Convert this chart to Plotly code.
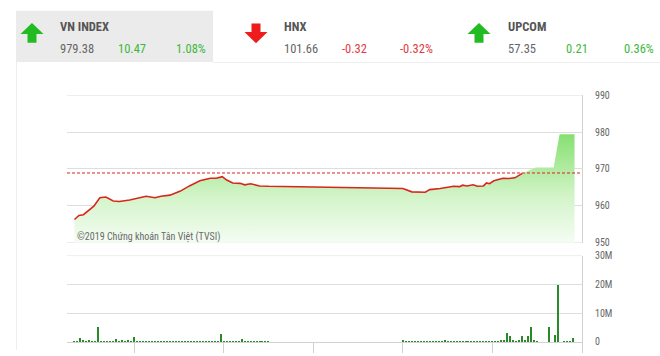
import plotly.graph_objects as go
import pandas as pd

W, H = 660, 356
DAY = "2019-01-01 "

# ---------------- data ----------------
prev_close = 968.91

line_times = ["09:20", "09:23", "09:26", "09:29", "09:33", "09:37", "09:41", "09:46", "09:50", "09:57",
              "10:04", "10:08", "10:14", "10:18", "10:24", "10:31", "10:37", "10:44", "10:51", "10:55",
              "10:59", "11:02", "11:06", "11:11", "11:14", "11:18", "11:24", "11:29", "11:30",
              "13:00", "13:06", "13:15", "13:18", "13:25", "13:34", "13:38", "13:40", "13:43", "13:47",
              "13:50", "13:54", "13:56", "13:58", "14:01", "14:03", "14:07", "14:11", "14:15", "14:20"]
line_values = [956.3, 957.4, 957.6, 958.7, 959.9, 962.2, 962.4, 961.3, 961.2, 961.6,
               962.2, 962.6, 962.2, 962.6, 962.9, 964.0, 965.4, 966.8, 967.5, 967.5,
               967.9, 967.0, 966.2, 966.1, 965.7, 966.0, 965.4, 965.3, 965.3,
               964.7, 963.8, 963.7, 964.4, 964.7, 965.3, 965.2, 965.6, 965.4, 965.7,
               965.3, 965.4, 966.2, 966.0, 966.8, 967.0, 967.5, 967.4, 967.6, 968.8]

# tail of the session shown only as filled area
tail_times = ["14:29", "14:41", "14:45", "14:55"]
tail_values = [970.4, 970.4, 979.38, 979.38]

vol_morning = [0.6, 0.5, 1.5, 0.8, 0.6, 0.7, 0.5, 0.6, 5.4, 0.5,
               0.6, 0.4, 0.5, 0.6, 1.2, 0.6, 0.9, 0.5, 0.8, 0.6,
               1.8, 0.4, 0.3, 0.4, 0.3, 0.5, 0.3, 0.4, 0.3, 0.3,
               0.4, 0.3, 0.5, 0.3, 0.4, 0.3, 0.3, 0.4, 0.3, 0.5,
               0.3, 0.4, 0.3, 0.4, 0.3, 0.4, 0.3, 0.4, 0.5, 2.9,
               0.4, 0.3, 0.4, 0.3, 0.4, 0.5, 1.3, 0.5, 0.4, 0.3,
               0.4, 0.3, 0.2, 0.3, 0.2, 0.3]
vol_afternoon = [1.0, 0.3, 0.2, 0.3, 0.4, 0.3, 0.4, 0.3, 0.5, 0.4,
                 0.3, 0.4, 0.6, 0.5, 0.7, 0.5, 0.6, 0.4, 0.5, 0.4,
                 0.3, 0.4, 0.3, 0.5, 0.3, 0.4, 0.3, 0.5, 0.4, 0.5,
                 0.4, 0.6, 0.5, 0.7, 0.9, 3.4, 2.2, 0.8, 0.6, 0.7,
                 2.3, 0.9, 2.3, 5.4, 0.8, 0.4, 0, 0, 0, 5.2,
                 0, 2.6, 20.0, 0, 0.2, 0.2, 0.3, 1.6]
vol_morning_times = pd.date_range(DAY + "09:20", DAY + "11:30", freq="2min")
vol_afternoon_times = pd.date_range(DAY + "13:00", DAY + "14:54", freq="2min")

vol_ticks = [0, 10, 20, 30]
vol_tick_text = ["0", "10M", "20M", "30M"]
idx_ticks = [950, 960, 970, 980, 990]

header = [
    # name, price, change, pct, up?
    ("VN INDEX", "979.38", "10.47", "1.08%", True),
    ("HNX", "101.66", "-0.32", "-0.32%", False),
    ("UPCOM", "57.35", "0.21", "0.36%", True),
]

# ---------------- helpers ----------------
def px(x):
    return x / W

def py(y):
    return 1 - y / H

FONT = "Roboto Condensed, Liberation Sans Narrow, DejaVu Sans Condensed, Roboto, sans-serif"
GREEN_TXT = "#3cb93c"
RED_TXT = "#e23a3f"
GRID = "#dedede"

x_dom = [px(67), px(582)]
y_main = [py(245), py(92.3)]
y_vol = [py(347.7), py(258.3)]
x_range = [DAY + "09:15", DAY + "15:00"]

fig = go.Figure()

area_x = [DAY + t for t in line_times + tail_times]
area_y = line_values + tail_values
fig.add_trace(go.Scatter(
    x=area_x, y=area_y, mode="lines", fill="tozeroy",
    line=dict(width=0, color="rgba(0,0,0,0)"),
    fillgradient=dict(type="vertical", start=950, stop=980,
                      colorscale=[[0, "#f8fdf7"], [0.45, "#d2f4c8"], [1, "#84df6e"]]),
    hoverinfo="skip", xaxis="x", yaxis="y"))
fig.add_trace(go.Scatter(
    x=[DAY + t for t in line_times], y=line_values, mode="lines",
    line=dict(width=1.6, color="#d9261c"),
    hoverinfo="skip", xaxis="x", yaxis="y"))

fig.add_trace(go.Bar(
    x=list(vol_morning_times) + list(vol_afternoon_times),
    y=vol_morning + vol_afternoon,
    width=45000, marker=dict(color="#2a8a2a", line=dict(width=0)),
    hoverinfo="skip", xaxis="x2", yaxis="y2"))

fig.update_layout(
    width=W, height=H, margin=dict(l=0, r=0, t=0, b=0),
    paper_bgcolor="white", plot_bgcolor="white", showlegend=False,
    font=dict(family=FONT, color="#666"),
    bargap=0,
    xaxis=dict(domain=x_dom, type="date", range=x_range, showgrid=False,
               showticklabels=False, zeroline=False, showline=False, ticks="", anchor="y"),
    yaxis=dict(domain=y_main, range=[950, 990], side="right", tickvals=idx_ticks,
               gridcolor=GRID, gridwidth=1, showline=True, linecolor="#d2d2d2",
               zeroline=False, ticks="", ticklabelstandoff=10,
               tickfont=dict(size=10, color="#666"), anchor="x"),
    xaxis2=dict(domain=x_dom, type="date", range=x_range, showgrid=False,
                showticklabels=False, zeroline=False, showline=True, linecolor="#d2d2d2",
                ticks="outside", ticklen=10, tickcolor="#d2d2d2",
                tick0=DAY + "09:00", dtick=3600000, anchor="y2"),
    yaxis2=dict(domain=y_vol, range=[0, 30], side="right", tickvals=vol_ticks,
                ticktext=vol_tick_text, gridcolor=GRID, showline=True, linecolor="#d2d2d2",
                zeroline=False, ticks="", ticklabelstandoff=10,
                tickfont=dict(size=10, color="#666"), anchor="x2"),
)

# edge gridlines (plotly omits grid at the range ends)
for yv in (idx_ticks[0], idx_ticks[-1]):
    fig.add_shape(type="line", xref="x domain", yref="y", x0=0, x1=1, y0=yv, y1=yv,
                  line=dict(color=GRID, width=1), layer="below")
fig.add_shape(type="line", xref="x2 domain", yref="y2", x0=0, x1=1,
              y0=vol_ticks[-1], y1=vol_ticks[-1], line=dict(color=GRID, width=1), layer="below")

# previous close reference line
fig.add_shape(type="line", xref="x domain", yref="y", x0=0, x1=1, y0=prev_close, y1=prev_close,
              line=dict(color="#e0201c", width=1, dash="3px,2px"))

# header background and page borders
shapes = [
    dict(type="rect", xref="paper", yref="paper", x0=px(16), x1=px(213), y0=py(58), y1=py(5),
         fillcolor="#ebebeb", line=dict(width=0), layer="below"),
    dict(type="line", xref="paper", yref="paper", x0=px(213), x1=1, y0=py(58.5), y1=py(58.5),
         line=dict(color="#eeeeee", width=1)),
    dict(type="line", xref="paper", yref="paper", x0=px(16.5), x1=px(16.5), y0=0, y1=py(58),
         line=dict(color="#eeeeee", width=1)),
]
for s in shapes:
    fig.add_shape(**s)

def arrow_path(x0, up):
    # chunky arrow in pixel coords, 22 px wide, 20 px tall
    if up:
        pts = [(x0 + 11, 17.5), (x0 + 22.5, 29), (x0 + 15.5, 29), (x0 + 15.5, 38),
               (x0 + 6.5, 38), (x0 + 6.5, 29), (x0 - 0.5, 29)]
    else:
        pts = [(x0 + 11, 38.5), (x0 + 22.5, 27), (x0 + 15.5, 27), (x0 + 15.5, 18),
               (x0 + 6.5, 18), (x0 + 6.5, 27), (x0 - 0.5, 27)]
    return "M " + " L ".join(f"{px(a):.5f},{py(b):.5f}" for a, b in pts) + " Z"

block_x = [58, 282, 506]
arrow_x = [21, 245, 468]
for (name, price, chg, pct, up), bx, ax in zip(header, block_x, arrow_x):
    col = GREEN_TXT if up else RED_TXT
    fig.add_shape(type="path", xref="paper", yref="paper", path=arrow_path(ax, up),
                  fillcolor="#22bb22" if up else "#ee1c1c", line=dict(width=0))
    fig.add_annotation(x=px(bx), y=py(21), xref="paper", yref="paper", text=f"<b>{name}</b>",
                       showarrow=False, xanchor="left", yanchor="middle",
                       font=dict(size=12.5, color="#555", family=FONT))
    for txt, off, c in [(price, 0, "#666"), (chg, 58, col), (pct, 116, col)]:
        fig.add_annotation(x=px(bx + off), y=py(44), xref="paper", yref="paper", text=txt,
                           showarrow=False, xanchor="left", yanchor="middle",
                           font=dict(size=12.5, color=c, family=FONT))

fig.add_annotation(x=px(75), y=py(239), xref="paper", yref="paper",
                   text="©2019 Chứng khoán Tân Việt (TVSI)", showarrow=False,
                   xanchor="left", yanchor="middle", font=dict(size=10, color="#6a6a6a", family=FONT))

fig.write_html("out.html")
